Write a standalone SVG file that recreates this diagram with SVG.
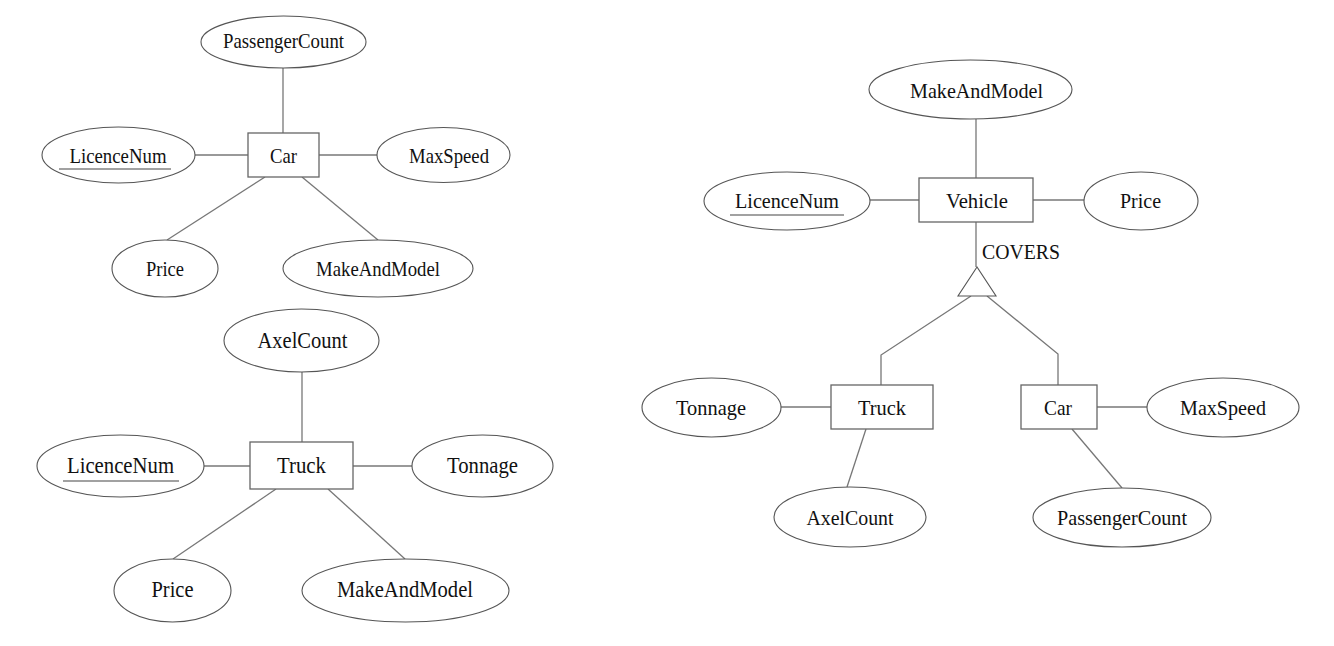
<svg xmlns="http://www.w3.org/2000/svg" width="1334" height="646" viewBox="0 0 1334 646">
<style>
  .bg{fill:#ffffff}
  .ent{fill:#ffffff;stroke:#666666;stroke-width:1.3}
  .att{fill:#ffffff;stroke:#555555;stroke-width:1.1}
  .con line,.con polyline{stroke:#777777;stroke-width:1.3;fill:none}
  .isa{fill:#ffffff;stroke:#555555;stroke-width:1.1}
  .ul{stroke:#444444;stroke-width:1.1}
  text{font-family:"Liberation Serif","Times New Roman",serif;fill:#111111;text-anchor:middle}
  .s1{font-size:22px}
  .s2{font-size:24px}
  .s3{font-size:22px}
</style>
<rect class="bg" x="0" y="0" width="1334" height="646"/>

<g id="connectors" class="con">
  <!-- top-left Car -->
  <line x1="283" y1="68" x2="283" y2="133"/>
  <line x1="195" y1="155" x2="248" y2="155"/>
  <line x1="319" y1="155" x2="377" y2="155"/>
  <line x1="265" y1="177" x2="167" y2="240"/>
  <line x1="302" y1="177" x2="378" y2="240"/>
  <!-- bottom-left Truck -->
  <line x1="302" y1="372" x2="302" y2="442"/>
  <line x1="204" y1="466" x2="250" y2="466"/>
  <line x1="353" y1="466" x2="412" y2="466"/>
  <line x1="276" y1="489" x2="173" y2="559"/>
  <line x1="328" y1="489" x2="405" y2="559"/>
  <!-- right Vehicle -->
  <line x1="976" y1="119" x2="976" y2="178"/>
  <line x1="870" y1="200" x2="919" y2="200"/>
  <line x1="1033" y1="200" x2="1084" y2="200"/>
  <line x1="976" y1="222" x2="976" y2="267"/>
  <polyline points="971,296 881,355 881,385"/>
  <polyline points="987,296 1058,354 1058,385"/>
  <line x1="781" y1="407" x2="831" y2="407"/>
  <line x1="866" y1="429" x2="847" y2="487"/>
  <line x1="1097" y1="407" x2="1147" y2="407"/>
  <line x1="1072" y1="429" x2="1122" y2="488"/>
</g>

<!-- Top-left: Car -->
<g id="tl-car"><rect class="ent" x="248" y="133" width="71" height="44"/><text class="s1" x="283.5" y="163" textLength="27" lengthAdjust="spacingAndGlyphs">Car</text></g>
<g id="tl-passengercount"><ellipse class="att" cx="283.5" cy="42" rx="82.5" ry="26"/><text class="s1" x="283.5" y="48" textLength="121" lengthAdjust="spacingAndGlyphs">PassengerCount</text></g>
<g id="tl-licencenum"><ellipse class="att" cx="118.5" cy="155" rx="76.5" ry="28"/><text class="s1" x="118" y="163" textLength="97" lengthAdjust="spacingAndGlyphs">LicenceNum</text><line class="ul" x1="59" y1="169" x2="171" y2="169"/></g>
<g id="tl-maxspeed"><ellipse class="att" cx="443.5" cy="155" rx="66.5" ry="27.5"/><text class="s1" x="449" y="163" textLength="80" lengthAdjust="spacingAndGlyphs">MaxSpeed</text></g>
<g id="tl-price"><ellipse class="att" cx="165" cy="268.5" rx="53" ry="28.5"/><text class="s1" x="165" y="276" textLength="38" lengthAdjust="spacingAndGlyphs">Price</text></g>
<g id="tl-makeandmodel"><ellipse class="att" cx="378" cy="268.5" rx="95" ry="28.5"/><text class="s1" x="378" y="276" textLength="124" lengthAdjust="spacingAndGlyphs">MakeAndModel</text></g>

<!-- Bottom-left: Truck -->
<g id="bl-truck"><rect class="ent" x="250" y="442" width="103" height="47"/><text class="s2" x="301.5" y="473" textLength="49" lengthAdjust="spacingAndGlyphs">Truck</text></g>
<g id="bl-axelcount"><ellipse class="att" cx="301.5" cy="340.5" rx="77.5" ry="31.5"/><text class="s2" x="302.5" y="348" textLength="90" lengthAdjust="spacingAndGlyphs">AxelCount</text></g>
<g id="bl-licencenum"><ellipse class="att" cx="120.5" cy="466" rx="83.5" ry="31"/><text class="s2" x="120.5" y="473" textLength="107" lengthAdjust="spacingAndGlyphs">LicenceNum</text><line class="ul" x1="63" y1="481" x2="179" y2="481"/></g>
<g id="bl-tonnage"><ellipse class="att" cx="482.5" cy="466" rx="70.5" ry="31"/><text class="s2" x="482.5" y="473" textLength="71" lengthAdjust="spacingAndGlyphs">Tonnage</text></g>
<g id="bl-price"><ellipse class="att" cx="172.5" cy="590.5" rx="58.5" ry="31.5"/><text class="s2" x="172.5" y="597" textLength="42" lengthAdjust="spacingAndGlyphs">Price</text></g>
<g id="bl-makeandmodel"><ellipse class="att" cx="405.5" cy="590.5" rx="103.5" ry="31.5"/><text class="s2" x="405" y="597" textLength="136" lengthAdjust="spacingAndGlyphs">MakeAndModel</text></g>

<!-- Right: Vehicle hierarchy -->
<g id="r-vehicle"><rect class="ent" x="919" y="178" width="114" height="44"/><text class="s3" x="977" y="208" textLength="62" lengthAdjust="spacingAndGlyphs">Vehicle</text></g>
<g id="r-makeandmodel"><ellipse class="att" cx="970.5" cy="89.5" rx="101.5" ry="29.5"/><text class="s3" x="976.5" y="98" textLength="133" lengthAdjust="spacingAndGlyphs">MakeAndModel</text></g>
<g id="r-licencenum"><ellipse class="att" cx="787" cy="201" rx="83" ry="29"/><text class="s3" x="787" y="208" textLength="104" lengthAdjust="spacingAndGlyphs">LicenceNum</text><line class="ul" x1="730" y1="215" x2="844" y2="215"/></g>
<g id="r-price"><ellipse class="att" cx="1141" cy="201" rx="57" ry="29"/><text class="s3" x="1140.5" y="208" textLength="41" lengthAdjust="spacingAndGlyphs">Price</text></g>
<g id="r-covers"><polygon class="isa" points="977,267 958,296 996,296"/><text class="s3" x="982" y="259" style="text-anchor:start" textLength="78" lengthAdjust="spacingAndGlyphs">COVERS</text></g>
<g id="r-truck"><rect class="ent" x="831" y="385" width="102" height="44"/><text class="s3" x="882" y="415" textLength="48" lengthAdjust="spacingAndGlyphs">Truck</text></g>
<g id="r-tonnage"><ellipse class="att" cx="711.5" cy="407.5" rx="69.5" ry="29.5"/><text class="s3" x="711" y="415" textLength="70" lengthAdjust="spacingAndGlyphs">Tonnage</text></g>
<g id="r-axelcount"><ellipse class="att" cx="850" cy="517" rx="76" ry="30"/><text class="s3" x="850" y="525" textLength="87" lengthAdjust="spacingAndGlyphs">AxelCount</text></g>
<g id="r-car"><rect class="ent" x="1021" y="385" width="76" height="44"/><text class="s3" x="1058" y="415" textLength="28" lengthAdjust="spacingAndGlyphs">Car</text></g>
<g id="r-maxspeed"><ellipse class="att" cx="1223" cy="407.5" rx="76" ry="29.5"/><text class="s3" x="1223" y="415" textLength="86" lengthAdjust="spacingAndGlyphs">MaxSpeed</text></g>
<g id="r-passengercount"><ellipse class="att" cx="1122" cy="517.5" rx="89" ry="29.5"/><text class="s3" x="1122" y="525" textLength="130" lengthAdjust="spacingAndGlyphs">PassengerCount</text></g>
</svg>
